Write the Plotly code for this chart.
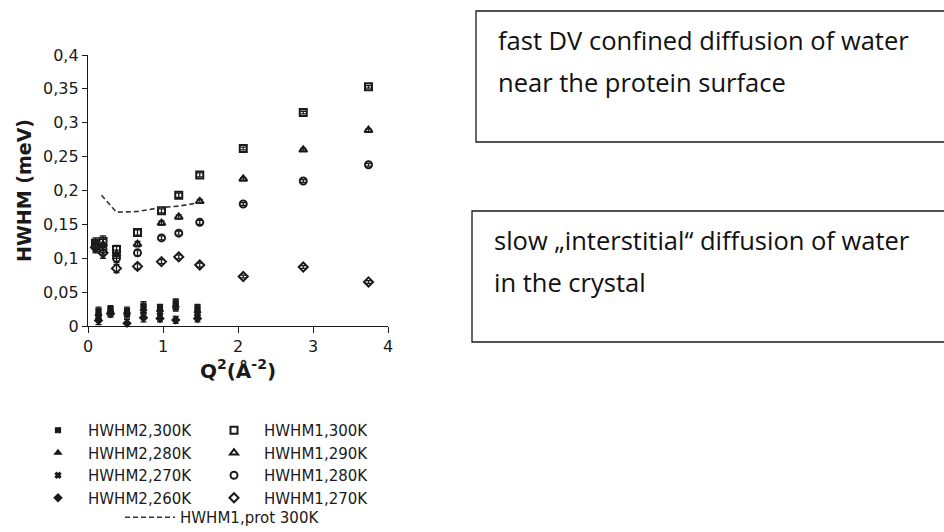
import plotly.graph_objects as go

# ---- data ----
q2_hwhm1 = [0.10, 0.20, 0.38, 0.66, 0.98, 1.21, 1.49, 2.07, 2.87, 3.74]
hwhm1_300 = [0.122, 0.125, 0.113, 0.138, 0.170, 0.193, 0.223, 0.262, 0.315, 0.353]
hwhm1_290 = [0.120, 0.120, 0.106, 0.121, 0.152, 0.161, 0.184, 0.217, 0.260, 0.289]
hwhm1_280 = [0.118, 0.113, 0.100, 0.108, 0.130, 0.137, 0.153, 0.180, 0.214, 0.238]
hwhm1_270 = [0.116, 0.108, 0.085, 0.088, 0.095, 0.102, 0.090, 0.073, 0.087, 0.065]
err_hwhm1 = [0.008, 0.008, 0.006, 0.004, 0.003, 0.003, 0.003, 0.002, 0.002, 0.002]

q2_hwhm2 = [0.14, 0.30, 0.52, 0.74, 0.96, 1.17, 1.46]
hwhm2_300 = [0.022, 0.025, 0.022, 0.030, 0.027, 0.035, 0.027]
hwhm2_280 = [0.018, 0.022, 0.020, 0.025, 0.024, 0.030, 0.022]
hwhm2_270 = [0.013, 0.020, 0.018, 0.022, 0.020, 0.027, 0.018]
hwhm2_260 = [0.008, 0.018, 0.004, 0.012, 0.011, 0.009, 0.011]
err_hwhm2 = [0.006, 0.005, 0.006, 0.006, 0.005, 0.005, 0.005]

q2_prot = [0.18, 0.38, 0.66, 0.98, 1.21, 1.49]
hwhm1_prot_300 = [0.193, 0.168, 0.169, 0.175, 0.177, 0.182]

x_ticks = [0, 1, 2, 3, 4]
y_ticks = [0, 0.05, 0.1, 0.15, 0.2, 0.25, 0.3, 0.35, 0.4]

box_texts = [
    ["fast DV confined diffusion of water", "near the protein surface"],
    ["slow \u201einterstitial\u201c diffusion of water", "in the crystal"],
]

INK = "#1a1a1a"
W, H = 944, 532


def px_x(p):
    return p / W


def px_y(p):
    return 1 - p / H


fig = go.Figure()

hwhm2_series = [
    ("HWHM2,300K", hwhm2_300, "square", 5),
    ("HWHM2,280K", hwhm2_280, "triangle-up", 6),
    ("HWHM2,270K", hwhm2_270, "x", 5),
    ("HWHM2,260K", hwhm2_260, "diamond", 6),
]
for name, ys, sym, size in hwhm2_series:
    fig.add_trace(go.Scatter(
        x=q2_hwhm2, y=ys, name=name, mode="markers", legend="legend",
        marker=dict(symbol=sym, size=size, color=INK, line=dict(color=INK, width=1.2)),
        error_y=dict(type="data", array=err_hwhm2, color=INK, thickness=1.3, width=3),
        cliponaxis=False,
    ))

hwhm1_series = [
    ("HWHM1,300K", hwhm1_300, "square-open", 7),
    ("HWHM1,290K", hwhm1_290, "triangle-up-open", 7),
    ("HWHM1,280K", hwhm1_280, "circle-open", 7),
    ("HWHM1,270K", hwhm1_270, "diamond-open", 7),
]
for name, ys, sym, size in hwhm1_series:
    fig.add_trace(go.Scatter(
        x=q2_hwhm1, y=ys, name=name, mode="markers", legend="legend2",
        marker=dict(symbol=sym, size=size, color=INK, line=dict(color=INK, width=2)),
        error_y=dict(type="data", array=err_hwhm1, color=INK, thickness=1.3, width=3),
        cliponaxis=False,
    ))

fig.add_trace(go.Scatter(
    x=q2_prot, y=hwhm1_prot_300, name="HWHM1,prot 300K", mode="lines", legend="legend3",
    line=dict(color="#333333", width=1.6, dash="5px,3px"),
))

leg_font = dict(family="DejaVu Sans", size=15, color=INK)
legend_common = dict(orientation="v", xanchor="left", yanchor="top",
                     bgcolor="rgba(0,0,0,0)", borderwidth=0, font=leg_font,
                     itemwidth=50, tracegroupgap=0)

fig.update_layout(
    width=W, height=H,
    margin=dict(l=0, r=0, t=0, b=0, autoexpand=False),
    paper_bgcolor="white", plot_bgcolor="white",
    separators=",.",
    showlegend=True,
    font=dict(family="DejaVu Sans", color=INK),
    xaxis=dict(
        domain=[px_x(88), px_x(388)], range=[0, 4],
        tickvals=x_ticks, showgrid=False, zeroline=False,
        showline=True, linecolor=INK, linewidth=1.3,
        ticks="outside", ticklen=6, tickwidth=1.3, tickcolor=INK,
        tickfont=dict(family="DejaVu Sans", size=16, color=INK),
        title=dict(text="<b>Q<sup>2</sup>(Å<sup>-2</sup>)</b>",
                   font=dict(family="DejaVu Sans", size=20, color=INK), standoff=6),
    ),
    yaxis=dict(
        domain=[px_y(326), px_y(55)], range=[0, 0.4],
        tickvals=y_ticks, showgrid=False, zeroline=False,
        showline=True, linecolor=INK, linewidth=1.3,
        ticks="outside", ticklen=5, tickwidth=1.3, tickcolor=INK,
        tickfont=dict(family="DejaVu Sans", size=16, color=INK),
        title=dict(text="<b>HWHM (meV)</b>",
                   font=dict(family="DejaVu Sans", size=19, color=INK), standoff=6),
    ),
    legend=dict(legend_common, x=px_x(28), y=px_y(414)),
    legend2=dict(legend_common, x=px_x(204), y=px_y(414)),
    legend3=dict(legend_common, x=px_x(120), y=px_y(501)),
)

# text boxes on the right
boxes = [
    dict(x0=476, top=11, bottom=142, tx=496, lines_y=[40, 82]),
    dict(x0=472, top=211, bottom=342, tx=492, lines_y=[240, 282]),
]
for b, texts in zip(boxes, box_texts):
    fig.add_shape(type="rect", xref="paper", yref="paper",
                  x0=px_x(b["x0"]), x1=px_x(W + 4), y0=px_y(b["bottom"]), y1=px_y(b["top"]),
                  line=dict(color=INK, width=1.3), fillcolor="rgba(0,0,0,0)")
    for t, ly in zip(texts, b["lines_y"]):
        fig.add_annotation(text=t, xref="paper", yref="paper", x=px_x(b["tx"]), y=px_y(ly),
                           xanchor="left", yanchor="middle", showarrow=False,
                           font=dict(family="Open Sans", size=25.5, color="#111111"))

fig.write_html("out.html")
